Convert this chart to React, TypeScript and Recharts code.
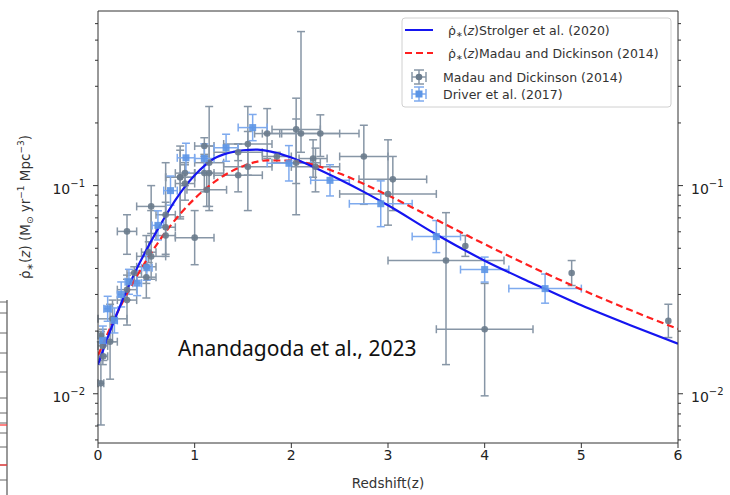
import React from 'react'
import { ComposedChart, Line, Scatter, ErrorBar, XAxis, YAxis, ReferenceLine } from 'recharts'

const W = 730
const H = 495
const Y_MIN = 0.0058
const Y_MAX = 0.69
const FONT = 'DejaVu Sans'

// Strolger et al. (2020) fit
const strolgerZ = [0, 0.1, 0.2, 0.3, 0.4, 0.5, 0.6, 0.7, 0.8, 0.9, 1.0, 1.1, 1.2, 1.3, 1.4, 1.5, 1.65, 1.8, 2.0, 2.25, 2.5, 2.75, 3.0, 3.5, 4.0, 4.5, 5.0, 5.5, 6.0]
const strolgerPsi = [0.0138, 0.0186, 0.0245, 0.0316, 0.0398, 0.049, 0.0596, 0.0716, 0.0851, 0.0989, 0.1122, 0.1245, 0.1349, 0.1413, 0.1452, 0.1479, 0.149, 0.1452, 0.1365, 0.1216, 0.107, 0.0933, 0.0804, 0.0582, 0.0436, 0.0339, 0.0266, 0.0214, 0.0174]

// Madau & Dickinson (2014) fit, dashed red curve
const mdFitZ = [0, 0.25, 0.5, 0.75, 1.0, 1.25, 1.5, 1.75, 2.0, 2.25, 2.5, 2.75, 3.0, 3.5, 4.0, 4.5, 5.0, 5.5, 6.0]
const mdFitPsi = [0.0153, 0.0273, 0.0437, 0.0642, 0.0866, 0.1079, 0.124, 0.1321, 0.1319, 0.125, 0.1143, 0.1019, 0.0898, 0.0685, 0.0523, 0.0404, 0.0317, 0.0253, 0.0205]

// Madau & Dickinson (2014) compilation (grey points): bin centre, bin edges, log psi, errors in dex
const mdZ = [0.055, 0.3, 0.5, 0.7, 1.0, 0.05, 0.125, 0.3, 0.5, 0.7, 0.9, 1.1, 1.45, 2.1, 3.0, 4.0, 1.125, 1.75, 2.225, 2.3, 3.05, 3.8, 4.9, 5.9, 0.03, 0.03, 0.55, 0.85, 1.15, 1.55, 2.05, 0.3, 0.55, 0.85, 1.15, 1.55, 2.05, 0.15, 0.375, 0.525, 0.7, 0.9, 1.1, 1.45, 1.85, 2.25, 2.75, 3.6]
const mdZLo = [0.01, 0.2, 0.4, 0.6, 0.8, 0.0, 0.05, 0.2, 0.4, 0.6, 0.8, 1.0, 1.2, 1.7, 2.5, 3.5, 0.92, 1.62, 2.08, 1.9, 2.7, 3.8, 4.9, 5.9, 0.0, 0.0, 0.4, 0.7, 1.0, 1.3, 1.8, 0.2, 0.4, 0.7, 1.0, 1.3, 1.8, 0.0, 0.3, 0.45, 0.6, 0.8, 1.0, 1.2, 1.7, 2.0, 2.5, 3.0]
const mdZHi = [0.1, 0.4, 0.6, 0.8, 1.2, 0.1, 0.2, 0.4, 0.6, 0.8, 1.0, 1.2, 1.7, 2.5, 3.5, 4.5, 1.33, 1.88, 2.37, 2.7, 3.4, 3.8, 4.9, 5.9, 0.06, 0.06, 0.7, 1.0, 1.3, 1.8, 2.3, 0.4, 0.7, 1.0, 1.3, 1.8, 2.3, 0.3, 0.45, 0.6, 0.8, 1.0, 1.2, 1.7, 2.0, 2.5, 3.0, 4.2]
const mdLogPsi = [-1.82, -1.5, -1.39, -1.2, -1.25, -1.77, -1.75, -1.55, -1.44, -1.24, -0.99, -0.94, -0.95, -0.75, -1.04, -1.69, -1.02, -0.75, -0.87, -0.75, -0.97, -1.29, -1.42, -1.65, -1.72, -1.95, -1.34, -0.96, -0.89, -0.91, -0.89, -1.22, -1.1, -0.96, -0.94, -0.8, -0.73, -1.64, -1.42, -1.32, -1.14, -0.94, -0.81, -0.84, -0.86, -0.91, -0.86, -1.36]
const mdErrUp = [0.09, 0.05, 0.15, 0.31, 0.13, 0.08, 0.18, 0.12, 0.1, 0.1, 0.09, 0.09, 0.15, 0.49, 0.26, 0.22, 0.08, 0.12, 0.09, 0.09, 0.11, 0.05, 0.06, 0.08, 0.02, 0.2, 0.22, 0.15, 0.27, 0.17, 0.21, 0.08, 0.1, 0.13, 0.13, 0.18, 0.15, 0.09, 0.03, 0.05, 0.06, 0.05, 0.04, 0.04, 0.02, 0.09, 0.15, 0.23]
const mdErrDn = [0.02, 0.05, 0.08, 0.13, 0.13, 0.09, 0.18, 0.12, 0.1, 0.1, 0.08, 0.09, 0.08, 0.09, 0.15, 0.32, 0.08, 0.12, 0.09, 0.11, 0.15, 0.05, 0.06, 0.08, 0.03, 0.2, 0.11, 0.19, 0.21, 0.21, 0.25, 0.11, 0.13, 0.2, 0.18, 0.15, 0.26, 0.11, 0.04, 0.05, 0.06, 0.06, 0.05, 0.04, 0.03, 0.12, 0.23, 0.5]

// Driver et al. (2017) (light blue points)
const driverZ = [0.05, 0.1, 0.17, 0.24, 0.32, 0.405, 0.505, 0.62, 0.75, 0.91, 1.1, 1.325, 1.6, 1.975, 2.4, 2.925, 3.5, 4.0, 4.625]
const driverZLo = [0.02, 0.06, 0.14, 0.2, 0.28, 0.36, 0.45, 0.56, 0.68, 0.82, 1.0, 1.2, 1.45, 1.75, 2.2, 2.6, 3.25, 3.75, 4.25]
const driverZHi = [0.08, 0.14, 0.2, 0.28, 0.36, 0.45, 0.56, 0.68, 0.82, 1.0, 1.2, 1.45, 1.75, 2.2, 2.6, 3.25, 3.75, 4.25, 5.0]
const driverPsi = [0.018, 0.0256, 0.0225, 0.03, 0.0345, 0.034, 0.0403, 0.0644, 0.0946, 0.136, 0.135, 0.152, 0.19, 0.128, 0.106, 0.0818, 0.0569, 0.0395, 0.032]
const driverErr = [0.07, 0.06, 0.06, 0.06, 0.06, 0.06, 0.06, 0.07, 0.07, 0.07, 0.07, 0.065, 0.063, 0.085, 0.075, 0.11, 0.077, 0.06, 0.07]

const xTicks = [0, 1, 2, 3, 4, 5, 6]
const yTicks = [0.006, 0.007, 0.008, 0.009, 0.01, 0.02, 0.03, 0.04, 0.05, 0.06, 0.07, 0.08, 0.09, 0.1, 0.2, 0.3, 0.4, 0.5, 0.6]
const yMajor = [0.01, 0.1]

const BLUE = '#1515f0'
const RED = '#ff1f1f'
const GREY_BAR = '#8796a6'
const GREY_DOT = '#6a7b8c'
const LBLUE_BAR = '#7eaaee'
const LBLUE_DOT = '#5c95e6'

const strolgerData = strolgerZ.map((z, i) => ({ z, v: strolgerPsi[i] }))
const mdFitData = mdFitZ.map((z, i) => ({ z, v: mdFitPsi[i] }))

const mdPoints = mdZ.map((z, i) => {
  const v = Math.pow(10, mdLogPsi[i])
  return {
    z,
    v,
    ex: [z - mdZLo[i], mdZHi[i] - z],
    ey: [v - Math.pow(10, mdLogPsi[i] - mdErrDn[i]), Math.pow(10, mdLogPsi[i] + mdErrUp[i]) - v],
  }
})
const mdWithX = mdPoints.filter((p) => p.ex[0] + p.ex[1] > 0)
const mdNoX = mdPoints.filter((p) => p.ex[0] + p.ex[1] === 0)

const driverPoints = driverZ.map((z, i) => {
  const v = driverPsi[i]
  return {
    z,
    v,
    ex: [z - driverZLo[i], driverZHi[i] - z],
    ey: [v - v * Math.pow(10, -driverErr[i]), v * Math.pow(10, driverErr[i]) - v],
  }
})

function LogTick({ x, y, payload, side }: any) {
  const v = payload.value
  const major = yMajor.some((m) => Math.abs(m - v) < 1e-9)
  const dir = side === 'left' ? -1 : 1
  const len = major ? 5 : 3
  const exp = Math.round(-Math.log10(v))
  return (
    <g>
      <line x1={x} y1={y} x2={x + dir * len} y2={y} stroke="#333" strokeWidth={1} />
      {major && (
        <text x={x + dir * 13} y={y + 8} textAnchor={side === 'left' ? 'end' : 'start'} fontSize={14} fill="#222" fontFamily={FONT}>
          10<tspan dy={-7} fontSize={10}>{'\u2212' + exp}</tspan>
        </text>
      )}
    </g>
  )
}

const greyDot = (p: any) => <circle cx={p.cx} cy={p.cy} r={3.3} fill={GREY_DOT} opacity={0.9} />
const blueSquare = (p: any) => <rect x={p.cx - 3.5} y={p.cy - 3.5} width={7} height={7} fill={LBLUE_DOT} opacity={0.9} />

function Overlay() {
  const fragTicks = [302, 313, 333, 353, 372, 398, 413, 423, 433, 447, 465, 480]
  return (
    <svg width={W} height={H} style={{ position: 'absolute', left: 0, top: 0, pointerEvents: 'none' }}>
      {/* cut-off neighbouring panel on the far left */}
      <line x1={7} y1={300} x2={7} y2={H} stroke="#555" strokeWidth={1.2} />
      {fragTicks.map((t) => (
        <line key={t} x1={0} y1={t} x2={7} y2={t} stroke="#666" strokeWidth={1} />
      ))}
      <line x1={0} y1={425} x2={7} y2={425} stroke="#f33" strokeWidth={1.2} />
      <line x1={0} y1={465} x2={7} y2={465} stroke="#f33" strokeWidth={1.2} />

      {/* axis titles */}
      <text transform="translate(30,207) rotate(-90)" textAnchor="middle" fontSize={13.5} fill="#333" fontFamily={FONT}>
        <tspan>ρ̇</tspan>
        <tspan fontSize={9} dy={3}>∗</tspan>
        <tspan dy={-3}>(</tspan>
        <tspan fontStyle="italic">z</tspan>
        <tspan>) (M</tspan>
        <tspan fontSize={9} dy={3}>⊙</tspan>
        <tspan dy={-3}> yr</tspan>
        <tspan fontSize={9} dy={-6}>−1</tspan>
        <tspan dy={6}> Mpc</tspan>
        <tspan fontSize={9} dy={-6}>−3</tspan>
        <tspan dy={6}>)</tspan>
      </text>
      <text x={388} y={488} textAnchor="middle" fontSize={13.5} fill="#333" fontFamily={FONT}>
        Redshift(z)
      </text>

      {/* annotation */}
      <text x={178} y={356} fontSize={21} fill="#111" fontFamily="Noto Sans">
        Anandagoda et al., 2023
      </text>

      {/* legend */}
      <rect x={402} y={18} width={269} height={89} rx={3} fill="#fff" fillOpacity={0.9} stroke="#d0d0d0" />
      <line x1={405} y1={30} x2={433} y2={30} stroke={BLUE} strokeWidth={2} />
      <line x1={405} y1={53} x2={433} y2={53} stroke={RED} strokeWidth={2} strokeDasharray="7 4" />
      <g stroke={GREY_BAR} strokeWidth={1.5}>
        <line x1={412} y1={77} x2={426} y2={77} />
        <line x1={419} y1={70} x2={419} y2={84} />
        <line x1={412} y1={72} x2={412} y2={82} />
        <line x1={426} y1={72} x2={426} y2={82} />
        <line x1={414} y1={70} x2={424} y2={70} />
        <line x1={414} y1={84} x2={424} y2={84} />
      </g>
      <circle cx={419} cy={77} r={3.3} fill={GREY_DOT} />
      <g stroke={LBLUE_BAR} strokeWidth={1.5}>
        <line x1={412} y1={94} x2={426} y2={94} />
        <line x1={419} y1={87} x2={419} y2={101} />
        <line x1={412} y1={89} x2={412} y2={99} />
        <line x1={426} y1={89} x2={426} y2={99} />
        <line x1={414} y1={87} x2={424} y2={87} />
        <line x1={414} y1={101} x2={424} y2={101} />
      </g>
      <rect x={415.5} y={90.5} width={7} height={7} fill={LBLUE_DOT} />
      <g fontSize={12.5} fill="#333" fontFamily={FONT}>
        <text x={448} y={35}>
          ρ̇<tspan fontSize={8} dy={2}>∗</tspan><tspan dy={-2}>(</tspan><tspan fontStyle="italic">z</tspan>)Strolger et al. (2020)
        </text>
        <text x={448} y={58}>
          ρ̇<tspan fontSize={8} dy={2}>∗</tspan><tspan dy={-2}>(</tspan><tspan fontStyle="italic">z</tspan>)Madau and Dickinson (2014)
        </text>
        <text x={443} y={82}>Madau and Dickinson (2014)</text>
        <text x={443} y={99}>Driver et al. (2017)</text>
      </g>
    </svg>
  )
}

export default function App() {
  return (
    <div style={{ position: 'absolute', left: 0, top: 0, width: W, height: H, background: '#fff', overflow: 'hidden' }}>
      <ComposedChart width={W} height={H} margin={{ top: 11, right: 0, bottom: 22, left: 38 }}>
        <XAxis
          dataKey="z"
          type="number"
          domain={[0, 6]}
          ticks={xTicks}
          allowDataOverflow
          stroke="#333"
          tickSize={5}
          tickMargin={2}
          height={30}
          tick={{ fontSize: 14, fill: '#222', fontFamily: FONT }}
        />
        <YAxis
          yAxisId="left"
          dataKey="v"
          scale="log"
          type="number"
          domain={[Y_MIN, Y_MAX]}
          allowDataOverflow
          ticks={yTicks}
          interval={0}
          width={60}
          stroke="#333"
          tickLine={false}
          tickSize={0}
          tickMargin={0}
          tick={<LogTick side="left" />}
        />
        <YAxis
          yAxisId="right"
          orientation="right"
          scale="log"
          type="number"
          domain={[Y_MIN, Y_MAX]}
          allowDataOverflow
          ticks={yTicks}
          interval={0}
          width={52}
          stroke="#333"
          tickLine={false}
          tickSize={0}
          tickMargin={0}
          tick={<LogTick side="right" />}
        />
        <ReferenceLine yAxisId="left" y={Y_MAX} stroke="#333" strokeWidth={1} />

        <Scatter yAxisId="left" data={mdWithX} dataKey="v" shape={greyDot} isAnimationActive={false}>
          <ErrorBar dataKey="ex" direction="x" width={4} stroke={GREY_BAR} strokeWidth={1.5} />
          <ErrorBar dataKey="ey" direction="y" width={4} stroke={GREY_BAR} strokeWidth={1.5} />
        </Scatter>
        <Scatter yAxisId="left" data={mdNoX} dataKey="v" shape={greyDot} isAnimationActive={false}>
          <ErrorBar dataKey="ey" direction="y" width={4} stroke={GREY_BAR} strokeWidth={1.5} />
        </Scatter>
        <Scatter yAxisId="left" data={driverPoints} dataKey="v" shape={blueSquare} isAnimationActive={false}>
          <ErrorBar dataKey="ex" direction="x" width={4} stroke={LBLUE_BAR} strokeWidth={1.5} />
          <ErrorBar dataKey="ey" direction="y" width={4} stroke={LBLUE_BAR} strokeWidth={1.5} />
        </Scatter>

        <Line yAxisId="left" data={mdFitData} dataKey="v" type="monotone" stroke={RED} strokeWidth={2.2} strokeDasharray="7 4" dot={false} isAnimationActive={false} />
        <Line yAxisId="left" data={strolgerData} dataKey="v" type="monotone" stroke={BLUE} strokeWidth={2.2} dot={false} isAnimationActive={false} />
      </ComposedChart>
      <Overlay />
    </div>
  )
}
